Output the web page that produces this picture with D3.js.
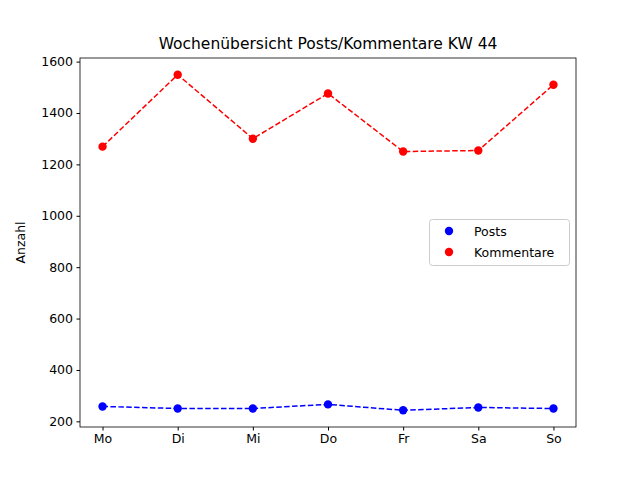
<!DOCTYPE html>
<html><head><meta charset="utf-8">
<script src="https://cdn.jsdelivr.net/npm/d3@7"></script>
<style>body{margin:0;background:#fff}</style>
</head><body>
<svg id="c" width="640" height="480"></svg>
<script>
const days = ["Mo","Di","Mi","Do","Fr","Sa","So"];
const posts = [258, 250, 250, 266, 243, 254, 250];
const kommentare = [1269, 1549, 1300, 1476, 1250, 1254, 1510];
const yTicks = [200,400,600,800,1000,1200,1400,1600];

const svg = d3.select("#c");
const L=80,R=576,T=58,B=427;
const x = d3.scaleLinear().domain([-0.3,6.3]).range([L,R]);
const y = d3.scaleLinear().domain([178,1614]).range([B,T]);
const font = "DejaVu Sans, sans-serif";

const gx = svg.append("g").attr("transform",`translate(0,${B})`)
  .call(d3.axisBottom(x).tickValues(d3.range(7)).tickFormat(i=>days[i]).tickSize(3.5).tickPadding(3.5));
const gy = svg.append("g").attr("transform",`translate(${L},0)`)
  .call(d3.axisLeft(y).tickValues(yTicks).tickFormat(d3.format("d")).tickSize(3.5).tickPadding(3.5));
[gx,gy].forEach(g=>{g.select(".domain").remove();g.selectAll("text").attr("font-size",12.5).attr("font-family",font).attr("fill","#000");g.selectAll("line").attr("stroke","#000");});
svg.append("rect").attr("x",L).attr("y",T).attr("width",R-L).attr("height",B-T).attr("fill","none").attr("stroke","#000").attr("stroke-width",0.8);

function series(vals,color){
  const line=d3.line().x((d,i)=>x(i)).y(d=>y(d));
  svg.append("path").attr("d",line(vals)).attr("fill","none").attr("stroke",color).attr("stroke-width",1.5).attr("stroke-dasharray","5.5,2.4");
  svg.selectAll(null).data(vals).enter().append("circle").attr("cx",(d,i)=>x(i)).attr("cy",d=>y(d)).attr("r",4.2).attr("fill",color);
}
series(posts,"#0000ff");
series(kommentare,"#ff0000");

svg.append("text").attr("x",(L+R)/2).attr("y",49).attr("text-anchor","middle").attr("font-family",font).attr("font-size",15.5).text("Wochenübersicht Posts/Kommentare KW 44");
svg.append("text").attr("transform",`translate(25,${(T+B)/2}) rotate(-90)`).attr("text-anchor","middle").attr("font-family",font).attr("font-size",12.5).text("Anzahl");

const lg=svg.append("g");
lg.append("rect").attr("x",429.5).attr("y",219.5).attr("width",140).attr("height",46).attr("rx",3).attr("fill","#fff").attr("stroke","#ccc");
[["Posts","#0000ff"],["Kommentare","#ff0000"]].forEach(([t,c],i)=>{
  lg.append("circle").attr("cx",449).attr("cy",231+i*21).attr("r",4.2).attr("fill",c);
  lg.append("text").attr("x",474).attr("y",235.5+i*21).attr("font-family",font).attr("font-size",12.5).text(t);
});
</script>
</body></html>
